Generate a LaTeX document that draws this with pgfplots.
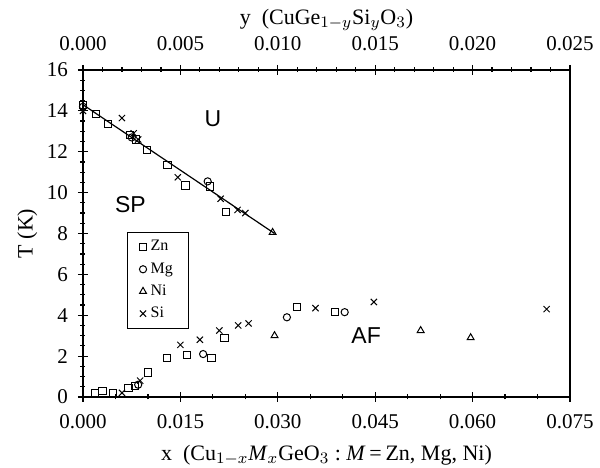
\documentclass[border=0pt]{standalone}
\usepackage{pgfplots}
\pgfplotsset{compat=1.18}
\usepackage{fontspec}
\setmainfont{Liberation Serif}
\newfontfamily\sansf{Liberation Sans}
\begin{document}
\begin{tikzpicture}
\begin{axis}[
  name=main,
  width=243.5pt, height=163.5pt, scale only axis,
  xmin=0, xmax=0.075, ymin=0, ymax=16,
  xtick={0,0.015,0.03,0.045,0.06,0.075},
  minor x tick num=2,
  ytick={0,2,...,16}, minor y tick num=3,
  xtick pos=bottom, ytick pos=left,
  tick align=center,
  major tick length=5pt, minor tick length=2.5pt,
  tick style={black, line width=0.6pt},
  axis line style={line width=0.8pt},
  /pgf/number format/assume math mode=true,
  xticklabel style={/pgf/number format/fixed,/pgf/number format/precision=3,/pgf/number format/fixed zerofill},
  scaled x ticks=false,
  ticklabel style={font=\fontsize{10.5}{12}\selectfont},
  xticklabel style={yshift=-2.5pt},
  yticklabel style={xshift=-1.5pt},
  label style={font=\fontsize{11}{13}\selectfont},
  xlabel style={yshift=-1.5pt},
  ylabel style={yshift=-2pt},
  xlabel={x\ \ (Cu$_{1-x}$\textit{M}$_x$GeO$_3$ :\ \textit{M}\,=\,Zn, Mg, Ni)},
  ylabel={T (K)},
  legend style={at={(rel axis cs:0.09,0.505)}, anchor=north west, draw=black, line width=0.6pt,
    font=\fontsize{8}{9}\selectfont, row sep=0.3pt, inner xsep=6pt, inner ysep=2pt,
    /tikz/every even column/.append style={column sep=3pt}},
  legend cell align=left,
  every axis plot/.append style={only marks, black, mark size=1.8pt, mark options={line width=0.5pt, fill=none}},
]
\addplot[mark=square] coordinates {
(0,14.3)(0.002,13.85)(0.0039,13.35)(0.0072,12.8)(0.0082,12.6)(0.0099,12.1)(0.013,11.35)(0.0158,10.35)(0.0196,10.3)(0.022,9.05)
(0.0019,0.2)(0.003,0.3)(0.0046,0.2)(0.007,0.45)(0.008,0.55)(0.01,1.2)(0.0129,1.9)(0.016,2.05)(0.0198,1.9)(0.0218,2.9)(0.0329,4.4)(0.0388,4.15)
};
\addlegendentry{Zn}
\addplot[mark=o] coordinates {
(0,14.2)(0.0075,12.7)(0.0192,10.55)
(0.0085,0.6)(0.0185,2.1)(0.0314,3.9)(0.0403,4.15)
};
\addlegendentry{Mg}
\addplot[mark=triangle, mark size=2pt] coordinates {
(0.0292,8.05)(0.0295,3.0)(0.052,3.25)(0.0597,2.9)
};
\addlegendentry{Ni}
\addplot[mark=x, mark size=2.2pt] coordinates {
(0,14.0)(0.006,13.65)(0.0078,12.9)(0.0085,12.6)(0.0146,10.75)(0.0212,9.7)(0.0238,9.15)(0.025,9.0)
(0.006,0.2)(0.0088,0.8)(0.015,2.55)(0.018,2.8)(0.021,3.25)(0.0239,3.5)(0.0255,3.6)(0.0358,4.35)(0.0448,4.65)(0.0714,4.3)
};
\addlegendentry{Si}
\addplot[no marks, sharp plot, black, line width=0.6pt, forget plot] coordinates {(0,14.3)(0.0295,8.0)};
\node[font=\sansf\fontsize{11.5}{13}\selectfont] at (axis cs:0.0200,13.6) {U};
\node[font=\sansf\fontsize{11.5}{13}\selectfont] at (axis cs:0.0073,9.4) {SP};
\node[font=\sansf\fontsize{11.5}{13}\selectfont] at (axis cs:0.0436,3.0) {AF};
\end{axis}
\begin{axis}[
  width=243.5pt, height=163.5pt, scale only axis,
  xmin=0, xmax=0.025, ymin=0, ymax=16,
  axis x line*=top, axis y line=none,
  xtick={0,0.005,0.01,0.015,0.02,0.025},
  minor x tick num=4,
  tick align=center,
  major tick length=5pt, minor tick length=2.5pt,
  tick style={black, line width=0.6pt},
  axis line style={line width=0.8pt},
  /pgf/number format/assume math mode=true,
  xticklabel style={/pgf/number format/fixed,/pgf/number format/precision=3,/pgf/number format/fixed zerofill, yshift=3.5pt},
  scaled x ticks=false,
  ticklabel style={font=\fontsize{10.5}{12}\selectfont},
  label style={font=\fontsize{11}{13}\selectfont},
  xlabel style={yshift=-4pt},
  xlabel={y\ \ (CuGe$_{1-y}$Si$_y$O$_3$)},
]
\addplot[draw=none, forget plot] coordinates {(0,0)};
\end{axis}
\pgfresetboundingbox
\path ([xshift=-41.5pt,yshift=-35.5pt]main.south west) rectangle ([xshift=15pt,yshift=35pt]main.north east);
\end{tikzpicture}
\end{document}
